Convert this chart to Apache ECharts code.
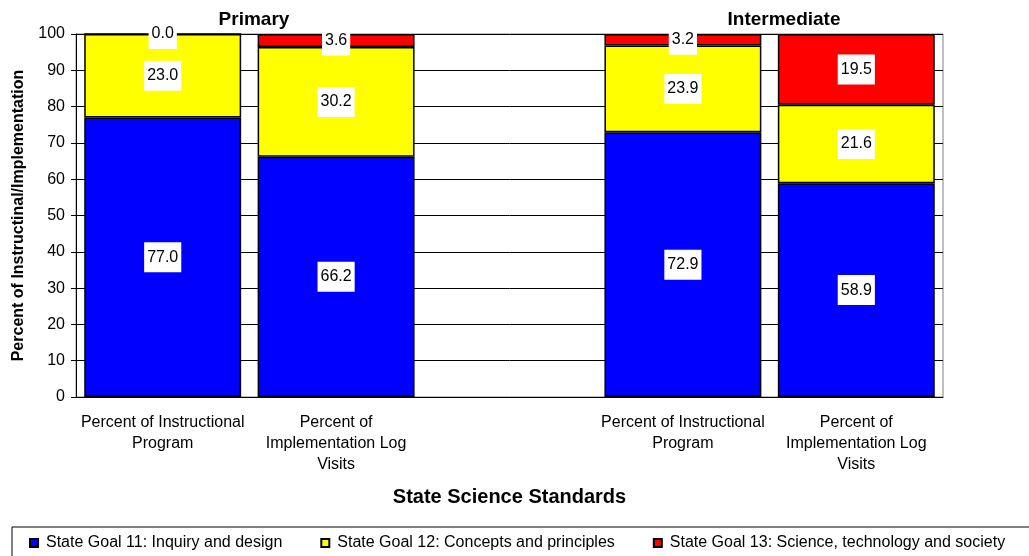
<!DOCTYPE html>
<html>
<head>
<meta charset="utf-8">
<script src="https://cdn.jsdelivr.net/npm/echarts@6/dist/echarts.min.js"></script>
<style>
  html, body { margin: 0; padding: 0; background: #fff; }
  #chart { width: 1029px; height: 556px; }
</style>
</head>
<body>
<div id="chart"></div>
<script>
// categories (empty slot in the middle separates the two groups)
var categories = [
  "Percent of Instructional\nProgram",
  "Percent of\nImplementation Log\nVisits",
  "",
  "Percent of Instructional\nProgram",
  "Percent of\nImplementation Log\nVisits"
];
var goal11 = [77.0, 66.2, null, 72.9, 58.9];
var goal12 = [23.0, 30.2, null, 23.9, 21.6];
var goal13 = [0.0, 3.6, null, 3.2, 19.5];
var seriesNames = [
  "State Goal 11: Inquiry and design",
  "State Goal 12: Concepts and principles",
  "State Goal 13: Science, technology and society"
];
var colors = ["#0000ff", "#ffff00", "#ff0000"];

var font = "Arial, 'Liberation Sans', sans-serif";

function makeSeries(name, data, color) {
  return {
    name: name,
    type: "bar",
    stack: "total",
    data: data,
    barCategoryGap: "9.5%",
    itemStyle: { color: color, borderColor: "#000", borderWidth: 1.5 },
    label: {
      show: true,
      position: "inside",
      formatter: function (p) { return p.value == null ? "" : p.value.toFixed(1); },
      color: "#000",
      fontFamily: font,
      fontSize: 16,
      lineHeight: 16,
      backgroundColor: "#fff",
      padding: [7, 3, 7, 3]
    }
  };
}

var chart = echarts.init(document.getElementById("chart"));
chart.setOption({
  animation: false,
  textStyle: { fontFamily: font },
  title: [
    { text: "Primary", left: 249, top: 5, textAlign: "center",
      textStyle: { fontSize: 19, fontWeight: "bold", color: "#000", fontFamily: font } },
    { text: "Intermediate", left: 779, top: 5, textAlign: "center",
      textStyle: { fontSize: 19, fontWeight: "bold", color: "#000", fontFamily: font } }
  ],
  grid: {
    left: 76, right: 86, top: 34, bottom: 159,
    show: true, borderColor: "#808080", borderWidth: 1
  },
  legend: {
    left: 12, top: 527,
    width: 1300,
    padding: [8, 60, 10, 17],
    borderColor: "#000", borderWidth: 1,
    itemWidth: 8, itemHeight: 8, itemGap: 38,
    icon: "rect",
    textStyle: { fontSize: 16, color: "#000", fontFamily: font, padding: [0, 0, 0, 3] },
    data: seriesNames
  },
  xAxis: {
    type: "category",
    data: categories,
    name: "State Science Standards",
    nameLocation: "middle",
    nameGap: 90,
    nameTextStyle: { fontSize: 20, fontWeight: "bold", color: "#000" },
    axisLine: { lineStyle: { color: "#000", width: 1 } },
    axisTick: { length: 5, lineStyle: { color: "#000" } },
    axisLabel: { interval: 0, fontSize: 16, color: "#000", lineHeight: 21, margin: 15 }
  },
  yAxis: {
    type: "value",
    min: 0, max: 100, interval: 10,
    name: "Percent of Instructinal/Implementation",
    nameLocation: "middle",
    nameGap: 49,
    nameTextStyle: { fontSize: 16, fontWeight: "bold", color: "#000" },
    axisLine: { show: true, lineStyle: { color: "#000" } },
    axisTick: { show: true, length: 5, lineStyle: { color: "#000" } },
    axisLabel: { fontSize: 16, color: "#000", margin: 11 },
    splitLine: { lineStyle: { color: "#000", width: 1 } }
  },
  series: [
    makeSeries(seriesNames[0], goal11, colors[0]),
    makeSeries(seriesNames[1], goal12, colors[1]),
    makeSeries(seriesNames[2], goal13, colors[2])
  ]
});
</script>
</body>
</html>
